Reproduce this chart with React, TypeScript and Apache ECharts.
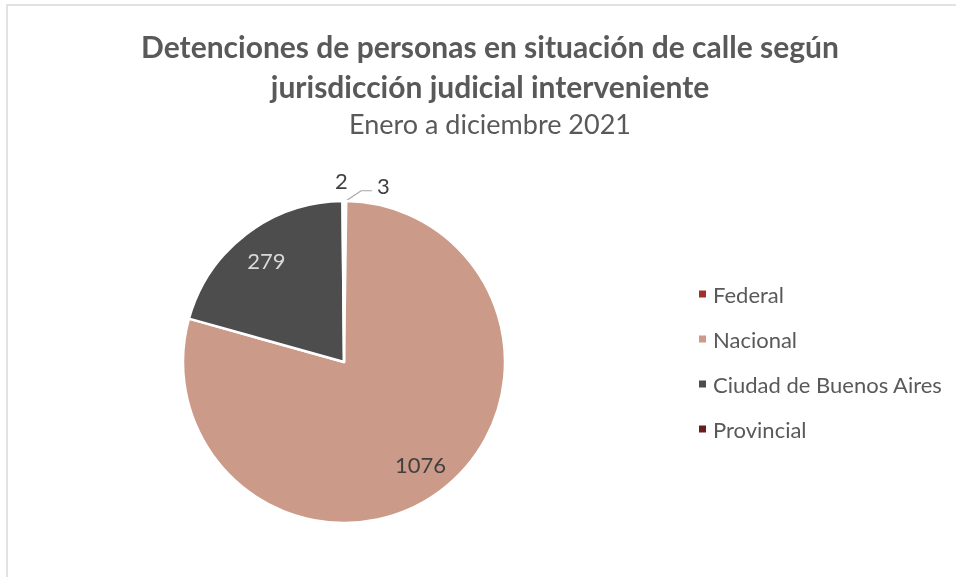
import React, { useEffect, useRef } from "react";
import * as echarts from "echarts";

const categories = ["Federal", "Nacional", "Ciudad de Buenos Aires", "Provincial"];
const values = [3, 1076, 279, 2];
const colors = ["#A0302E", "#CC9A88", "#4D4D4D", "#6B1C1C"];
const titleText = "Detenciones de personas en situación de calle según\njurisdicción judicial interveniente";
const subtitleText = "Enero a diciembre 2021";

export default function App() {
  const ref = useRef<HTMLDivElement>(null);
  useEffect(() => {
    if (!ref.current) return;
    const chart = echarts.init(ref.current, null, { renderer: "svg" });
    const font = "Lato, 'Liberation Sans', sans-serif";
    const R = 161;
    const mainData = categories.map((name, i) => {
      const small = values[i] < 50;
      return {
        name,
        value: values[i],
        itemStyle: { color: colors[i] },
        label: small ? { show: true, position: "outside" as const } : { show: false },
        labelLine: { show: name === "Federal" },
      };
    });
    const labelData = categories.map((name, i) => ({
      name,
      value: values[i],
      label: {
        show: values[i] >= 50,
        color: name === "Ciudad de Buenos Aires" ? "#D9D9D9" : "#404040",
      },
    }));
    chart.setOption({
      animation: false,
      textStyle: { fontFamily: font },
      title: {
        text: titleText,
        subtext: subtitleText,
        top: 21,
        textAlign: "center",
        left: 485,
        itemGap: 2,
        textStyle: {
          fontFamily: font,
          fontWeight: "bold",
          fontSize: 30,
          color: "#595959",
          lineHeight: 40,
        },
        subtextStyle: {
          fontFamily: font,
          fontSize: 27,
          lineHeight: 30,
          color: "#595959",
        },
      },
      legend: {
        orient: "vertical",
        left: 692,
        top: 278,
        itemGap: 23,
        itemWidth: 9,
        itemHeight: 9,
        icon: "rect",
        data: categories,
        textStyle: { fontFamily: font, fontSize: 22, lineHeight: 22, color: "#595959", padding: [0, 0, 0, 1] },
      },
      graphic: [
        {
          type: "rect",
          shape: { x: 7, y: 5, width: 1000, height: 700 },
          style: { fill: "none", stroke: "#D9D9D9", lineWidth: 1.5 },
          silent: true,
        },
      ],
      series: [
        {
          type: "pie",
          center: [344, 362],
          radius: [0, R],
          startAngle: 90,
          clockwise: true,
          avoidLabelOverlap: false,
          itemStyle: { borderColor: "#FFFFFF", borderWidth: 2.5 },
          label: { fontFamily: font, fontSize: 22, color: "#404040", formatter: "{c}" },
          labelLine: { length: 8, length2: 10, lineStyle: { color: "#A6A6A6", width: 1.2 } },
          labelLayout: (params: any) => {
            const r = params.rect;
            const ax = r.x + r.width / 2;
            const ay = r.y;
            if (params.dataIndex === 0) {
              return {
                x: ax + 32,
                y: ay - 14,
                align: "left",
                verticalAlign: "middle",
                labelLinePoints: [
                  [ax + 1, ay + 1],
                  [ax + 16, ay - 9],
                  [ax + 27, ay - 9],
                ],
              };
            }
            return {
              x: ax - 2,
              y: ay - 19,
              align: "center",
              verticalAlign: "middle",
            };
          },
          data: mainData,
        },
        {
          type: "pie",
          center: [344, 362],
          radius: [R * 0.55, R],
          startAngle: 90,
          clockwise: true,
          silent: true,
          avoidLabelOverlap: false,
          itemStyle: { color: "transparent", borderWidth: 0 },
          label: { position: "inside", fontFamily: font, fontSize: 22, formatter: "{c}" },
          labelLine: { show: false },
          data: labelData,
          z: 3,
        },
      ],
    });
    return () => chart.dispose();
  }, []);
  return <div ref={ref} style={{ position: "fixed", left: 0, top: 0, width: 956, height: 577 }} />;
}
